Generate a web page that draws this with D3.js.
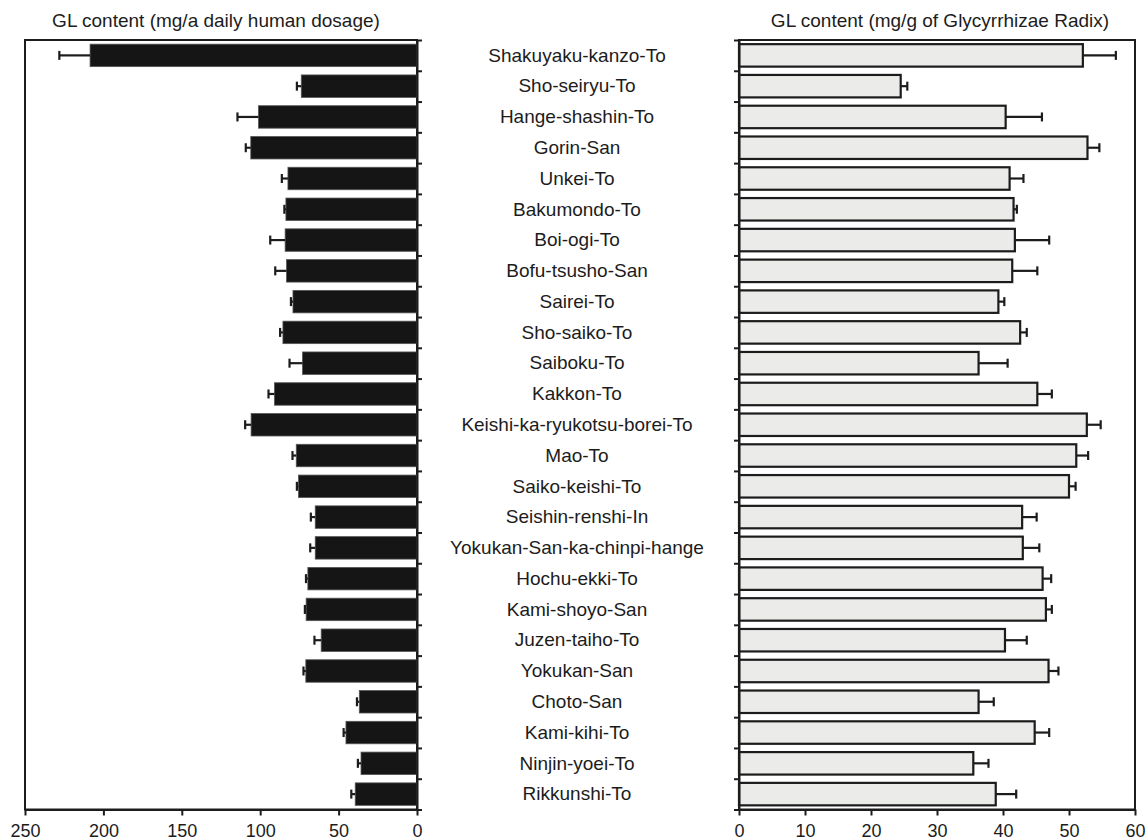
<!DOCTYPE html>
<html>
<head>
<meta charset="utf-8">
<script src="https://cdn.jsdelivr.net/npm/d3@7"></script>
<style>
  html, body { margin: 0; padding: 0; background: #fff; }
  svg { display: block; font-family: "Liberation Sans", Arial, Helvetica, sans-serif; }
</style>
</head>
<body>
<svg id="chart" width="1148" height="840"></svg>
<script>
// Kampo formulations, top to bottom
const formulas = [
  "Shakuyaku-kanzo-To", "Sho-seiryu-To", "Hange-shashin-To", "Gorin-San", "Unkei-To",
  "Bakumondo-To", "Boi-ogi-To", "Bofu-tsusho-San", "Sairei-To", "Sho-saiko-To",
  "Saiboku-To", "Kakkon-To", "Keishi-ka-ryukotsu-borei-To", "Mao-To", "Saiko-keishi-To",
  "Seishin-renshi-In", "Yokukan-San-ka-chinpi-hange", "Hochu-ekki-To", "Kami-shoyo-San",
  "Juzen-taiho-To", "Yokukan-San", "Choto-San", "Kami-kihi-To", "Ninjin-yoei-To", "Rikkunshi-To"
];

// GL content per daily human dosage (mg), mean and SD
const dailyMean = [208.5, 73.8, 101.1, 106.0, 82.3, 83.6, 84.1, 83.2, 79.1, 85.5,
                   73.0, 90.9, 105.8, 77.0, 75.6, 64.9, 64.9, 69.6, 70.7, 61.1,
                   70.9, 36.8, 45.3, 35.7, 39.4];
const dailySD   = [19.6, 2.8, 13.4, 3.2, 3.9, 1.0, 9.5, 7.2, 1.3, 1.8,
                   8.3, 3.8, 3.8, 2.4, 1.0, 2.8, 3.2, 1.2, 0.8, 4.3,
                   1.5, 1.5, 1.5, 2.0, 2.5];

// GL content per gram of Glycyrrhizae Radix (mg/g), mean and SD
const radixMean = [52.1, 24.5, 40.4, 52.8, 41.0, 41.6, 41.8, 41.4, 39.3, 42.6,
                   36.3, 45.2, 52.7, 51.1, 50.0, 42.9, 43.0, 46.0, 46.5, 40.3,
                   46.9, 36.3, 44.8, 35.5, 38.9];
const radixSD   = [5.0, 1.0, 5.5, 1.8, 2.1, 0.5, 5.2, 3.8, 0.9, 1.0,
                   4.4, 2.2, 2.1, 1.8, 1.0, 2.2, 2.5, 1.3, 0.9, 3.3,
                   1.5, 2.3, 2.2, 2.3, 3.1];

const dailyTicks = [250, 200, 150, 100, 50, 0];
const radixTicks = [0, 10, 20, 30, 40, 50, 60];

const titleLeft = "GL content (mg/a daily human dosage)";
const titleRight = "GL content (mg/g of Glycyrrhizae Radix)";

const svg = d3.select("#chart");
const ink = "#1c1c1c";

const plotTop = 40, plotBottom = 809.5;
const leftPanel = { x0: 25, x1: 417 };
const rightPanel = { x0: 739, x1: 1135 };

const y = d3.scaleBand().domain(formulas).range([plotTop, plotBottom])
  .paddingInner(0.27).paddingOuter(0.135);
const rowIdx = d3.scaleLinear().domain([0, formulas.length]).range([plotTop, plotBottom]);

const xL = d3.scaleLinear().domain([250, 0]).range([leftPanel.x0, leftPanel.x1]);
const xR = d3.scaleLinear().domain([0, 60]).range([rightPanel.x0, rightPanel.x1]);

const rows = formulas.map((f, i) => ({
  name: f, dm: dailyMean[i], ds: dailySD[i], rm: radixMean[i], rs: radixSD[i]
}));
const mid = d => y(d.name) + y.bandwidth() / 2;

function styleAxis(g) {
  g.select(".domain").attr("stroke", ink).attr("stroke-width", 2);
  g.selectAll(".tick line").attr("stroke", ink).attr("stroke-width", 2);
  g.selectAll(".tick text").attr("fill", ink).attr("font-size", 18)
    .attr("font-family", "Liberation Sans, Arial, sans-serif");
}

// ---- left panel: daily dosage ----
const gl = svg.append("g");
gl.append("rect")
  .attr("x", leftPanel.x0).attr("y", plotTop)
  .attr("width", leftPanel.x1 - leftPanel.x0).attr("height", plotBottom - plotTop)
  .attr("fill", "none").attr("stroke", ink).attr("stroke-width", 2);

gl.selectAll("rect.bar").data(rows).join("rect")
  .attr("class", "bar")
  .attr("x", d => xL(d.dm)).attr("y", d => y(d.name))
  .attr("width", d => xL(0) - xL(d.dm)).attr("height", y.bandwidth())
  .attr("fill", "#151515").attr("stroke", "#555").attr("stroke-width", 0.8);

const errL = gl.selectAll("g.err").data(rows).join("g").attr("class", "err")
  .attr("stroke", ink).attr("stroke-width", 2.2);
errL.append("line")
  .attr("x1", d => xL(d.dm)).attr("x2", d => xL(d.dm + d.ds))
  .attr("y1", mid).attr("y2", mid);
errL.append("line")
  .attr("x1", d => xL(d.dm + d.ds)).attr("x2", d => xL(d.dm + d.ds))
  .attr("y1", d => mid(d) - 4.5).attr("y2", d => mid(d) + 4.5);

gl.append("g").attr("transform", `translate(0,${plotBottom})`)
  .call(d3.axisBottom(xL).tickValues(dailyTicks).tickSize(6).tickPadding(9).tickSizeOuter(0))
  .call(styleAxis);
gl.append("g").attr("transform", `translate(${leftPanel.x1},0)`)
  .call(d3.axisRight(rowIdx).tickValues(d3.range(formulas.length + 1)).tickFormat("").tickSize(5).tickSizeOuter(0))
  .call(styleAxis);

// ---- right panel: per gram of Glycyrrhizae Radix ----
const gr = svg.append("g");
gr.append("rect")
  .attr("x", rightPanel.x0).attr("y", plotTop)
  .attr("width", rightPanel.x1 - rightPanel.x0).attr("height", plotBottom - plotTop)
  .attr("fill", "none").attr("stroke", ink).attr("stroke-width", 2);

gr.selectAll("rect.bar").data(rows).join("rect")
  .attr("class", "bar")
  .attr("x", xR(0)).attr("y", d => y(d.name))
  .attr("width", d => xR(d.rm) - xR(0)).attr("height", y.bandwidth())
  .attr("fill", "#ebecea").attr("stroke", ink).attr("stroke-width", 2.2);

const errR = gr.selectAll("g.err").data(rows).join("g").attr("class", "err")
  .attr("stroke", ink).attr("stroke-width", 2.2);
errR.append("line")
  .attr("x1", d => xR(d.rm)).attr("x2", d => xR(d.rm + d.rs))
  .attr("y1", mid).attr("y2", mid);
errR.append("line")
  .attr("x1", d => xR(d.rm + d.rs)).attr("x2", d => xR(d.rm + d.rs))
  .attr("y1", d => mid(d) - 4.5).attr("y2", d => mid(d) + 4.5);

gr.append("g").attr("transform", `translate(0,${plotBottom})`)
  .call(d3.axisBottom(xR).tickValues(radixTicks).tickSize(6).tickPadding(9).tickSizeOuter(0))
  .call(styleAxis);
gr.append("g").attr("transform", `translate(${rightPanel.x0},0)`)
  .call(d3.axisLeft(rowIdx).tickValues(d3.range(formulas.length + 1)).tickFormat("").tickSize(5).tickSizeOuter(0))
  .call(styleAxis);

// ---- formula names between the panels ----
svg.append("g").selectAll("text").data(rows).join("text")
  .attr("x", 577).attr("y", mid)
  .attr("dy", "0.33em")
  .attr("text-anchor", "middle").attr("font-size", 19).attr("fill", ink)
  .text(d => d.name);

// ---- panel titles ----
svg.append("text").attr("x", (leftPanel.x0 + leftPanel.x1) / 2 - 5).attr("y", 27)
  .attr("text-anchor", "middle").attr("font-size", 19).attr("fill", ink).text(titleLeft);
svg.append("text").attr("x", (rightPanel.x0 + rightPanel.x1) / 2 + 3).attr("y", 27)
  .attr("text-anchor", "middle").attr("font-size", 19).attr("fill", ink).text(titleRight);
</script>
</body>
</html>
